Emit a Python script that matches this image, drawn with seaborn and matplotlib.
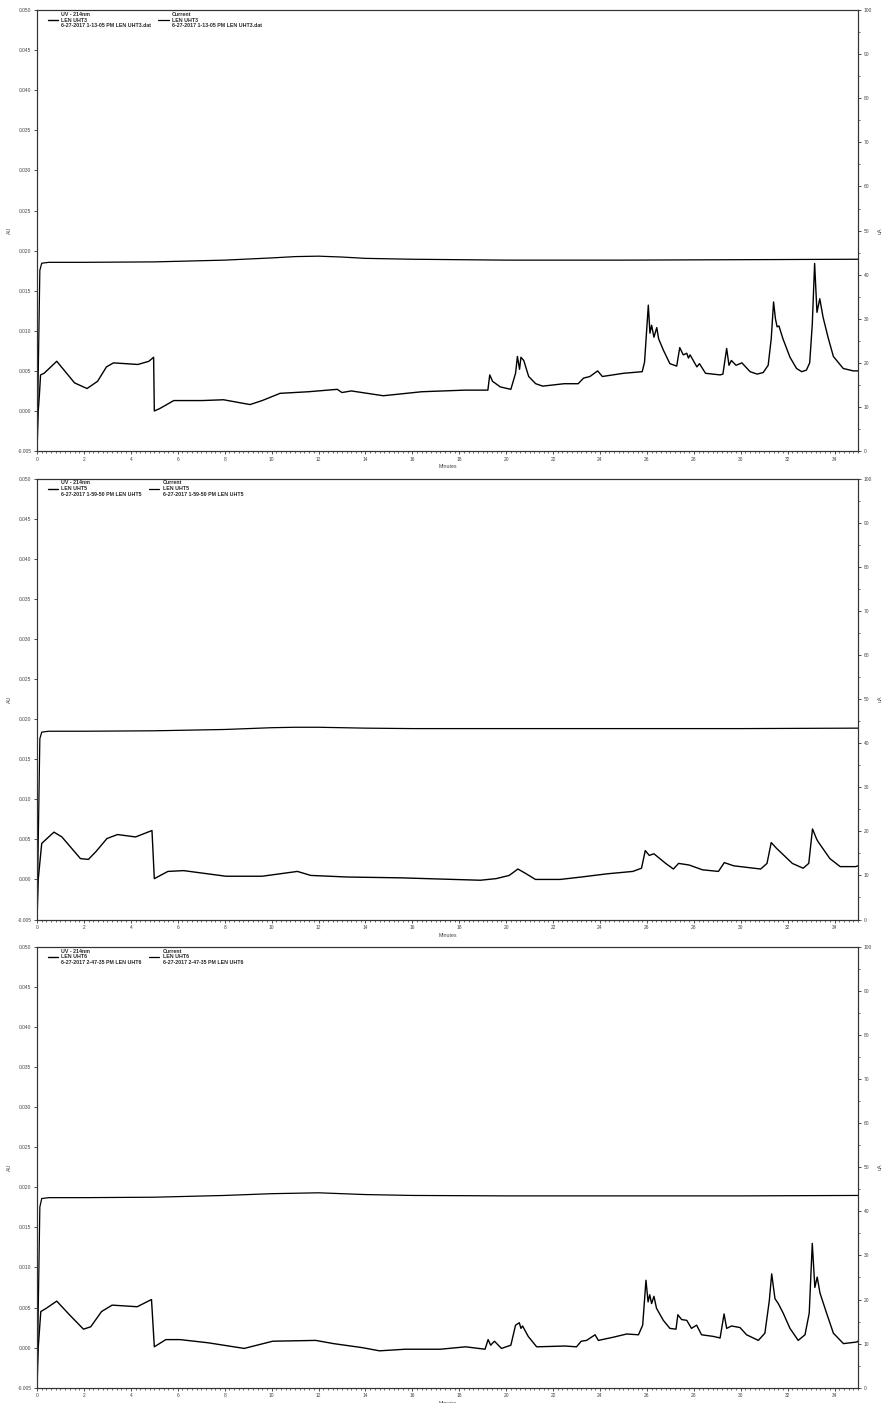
import matplotlib
matplotlib.use("Agg")
import matplotlib.pyplot as plt
from matplotlib.ticker import MultipleLocator, FormatStrFormatter
import seaborn as sns

# ---- panel 1: LEN UHT3 ----
uv1_t = [0, 0.05, 0.1, 0.15, 0.3, 0.84, 1.6, 2.13, 2.58, 2.96, 3.26, 4.3, 4.77, 4.97, 5.0,
         5.23, 5.83, 7.04, 7.95, 9.08, 9.6, 10.36, 11.57, 12.8, 13.0, 13.4, 14.76, 16.4, 18.24,
         19.22, 19.3, 19.42, 19.75, 20.2, 20.4, 20.48, 20.57, 20.63, 20.75, 20.96, 21.26, 21.56,
         22.47, 23.07, 23.3, 23.57, 23.9, 24.1, 25.0, 25.8, 25.9, 26.06, 26.13, 26.2, 26.3, 26.42,
         26.5, 26.7, 26.98, 27.27, 27.4, 27.55, 27.7, 27.77, 27.84, 28.13, 28.24, 28.5, 29.12,
         29.24, 29.4, 29.5, 29.6, 29.8, 30.05, 30.4, 30.7, 30.96, 31.17, 31.3, 31.4, 31.48, 31.55,
         31.63, 31.8, 32.1, 32.38, 32.6, 32.8, 32.94, 33.05, 33.15, 33.25, 33.37, 33.51, 33.73,
         33.95, 34.37, 34.8, 35.0]
uv1_au = [-0.005, 0.0, 0.002, 0.0045, 0.0047, 0.0062, 0.0035, 0.0028, 0.0037, 0.0055, 0.0060,
          0.0058, 0.0062, 0.0067, 0.0000, 0.0003, 0.0013, 0.0013, 0.0014, 0.0008, 0.0013, 0.0022,
          0.0024, 0.0027, 0.0023, 0.0025, 0.0019, 0.0024, 0.0026, 0.0026, 0.0045, 0.0037, 0.0030,
          0.0027, 0.0047, 0.0068, 0.0052, 0.0067, 0.0063, 0.0043, 0.0034, 0.0031, 0.0034, 0.0034,
          0.0041, 0.0043, 0.0050, 0.0043, 0.0047, 0.0049, 0.0061, 0.0132, 0.0097, 0.0107, 0.0092,
          0.0104, 0.0090, 0.0076, 0.0059, 0.0056, 0.0079, 0.0070, 0.0072, 0.0066, 0.0070, 0.0055,
          0.0059, 0.0047, 0.0045, 0.0046, 0.0078, 0.0057, 0.0063, 0.0057, 0.0060, 0.0049, 0.0046,
          0.0048, 0.0057, 0.0090, 0.0136, 0.0115, 0.0105, 0.0106, 0.0090, 0.0067, 0.0053, 0.0049,
          0.0051, 0.0060, 0.0108, 0.0184, 0.0123, 0.0140, 0.0117, 0.0091, 0.0068, 0.0053, 0.0050,
          0.0050]
cur1_t = [0, 0.12, 0.2, 0.5, 2, 5, 8, 10, 11, 12, 13, 14, 16, 20, 25, 30, 35]
cur1_ua = [0, 41.0, 42.6, 42.8, 42.8, 42.9, 43.3, 43.8, 44.1, 44.2, 44.0, 43.7, 43.5, 43.3, 43.3, 43.4, 43.5]

# ---- panel 2: LEN UHT5 ----
uv2_t = [0, 0.05, 0.2, 0.72, 1.06, 1.85, 2.19, 2.52, 2.98, 3.43, 4.2, 4.9, 5.0, 5.58, 6.25,
         8.05, 9.6, 11.1, 11.67, 13.25, 15.5, 17.76, 18.9, 19.57, 20.13, 20.5, 20.8, 21.25, 22.3,
         23.2, 24.3, 25.4, 25.77, 25.93, 26.1, 26.3, 26.8, 27.13, 27.35, 27.8, 28.37, 29.05, 29.3,
         29.7, 30.85, 31.12, 31.3, 31.52, 32.2, 32.66, 32.9, 33.06, 33.24, 33.3, 33.8, 34.24, 34.9, 35.0]
uv2_au = [-0.005, 0.0, 0.0045, 0.0059, 0.0053, 0.0026, 0.0025, 0.0035, 0.0051, 0.0056, 0.0053,
          0.0061, 0.0001, 0.0010, 0.0011, 0.0004, 0.0004, 0.0010, 0.0005, 0.0003, 0.0002, 0.0000,
          -0.0001, 0.0001, 0.0005, 0.0013, 0.0008, 0.0000, 0.0000, 0.0003, 0.0007, 0.0010, 0.0014,
          0.0036, 0.0030, 0.0032, 0.0020, 0.0013, 0.0020, 0.0018, 0.0012, 0.0010, 0.0021, 0.0017,
          0.0013, 0.0020, 0.0046, 0.0039, 0.0020, 0.0014, 0.0020, 0.0063, 0.0050, 0.0047, 0.0026,
          0.0016, 0.0016, 0.0017]
cur2_t = [0, 0.12, 0.2, 0.5, 2, 5, 8, 10, 11, 12, 13, 14, 16, 20, 25, 30, 35]
cur2_ua = [0, 41.0, 42.5, 42.7, 42.7, 42.8, 43.1, 43.5, 43.6, 43.6, 43.5, 43.4, 43.3, 43.3, 43.3, 43.3, 43.4]

# ---- panel 3: LEN UHT6 ----
uv3_t = [0, 0.05, 0.16, 0.39, 0.84, 1.38, 1.98, 2.29, 2.75, 3.2, 4.27, 4.88, 5.0, 5.49, 6.1,
         7.3, 8.83, 10.05, 11.88, 12.64, 13.86, 14.6, 15.7, 17.2, 18.27, 19.1, 19.23, 19.34, 19.5,
         19.8, 20.2, 20.4, 20.56, 20.63, 20.7, 20.94, 21.3, 22.5, 23.0, 23.2, 23.43, 23.79, 23.93,
         24.57, 25.14, 25.64, 25.82, 25.96, 26.05, 26.12, 26.2, 26.3, 26.41, 26.7, 26.98, 27.24,
         27.32, 27.48, 27.7, 27.9, 28.12, 28.33, 28.83, 29.12, 29.29, 29.4, 29.61, 29.97, 30.25,
         30.75, 31.03, 31.22, 31.32, 31.46, 31.6, 31.81, 32.1, 32.45, 32.74, 32.92, 33.05, 33.16,
         33.26, 33.38, 33.66, 33.95, 34.38, 34.95, 35.0]
uv3_au = [-0.005, 0.0, 0.0045, 0.0049, 0.0058, 0.0041, 0.0023, 0.0026, 0.0045, 0.0053, 0.0051,
          0.0060, 0.0001, 0.0010, 0.0010, 0.0006, -0.0001, 0.0008, 0.0009, 0.0005, 0.0000, -0.0004,
          -0.0002, -0.0002, 0.0001, -0.0002, 0.0010, 0.0003, 0.0008, -0.0001, 0.0003, 0.0028,
          0.0031, 0.0024, 0.0027, 0.0014, 0.0001, 0.0002, 0.0001, 0.0008, 0.0009, 0.0016, 0.0009,
          0.0013, 0.0017, 0.0016, 0.0028, 0.0084, 0.0057, 0.0066, 0.0055, 0.0064, 0.0049, 0.0034,
          0.0024, 0.0023, 0.0041, 0.0035, 0.0034, 0.0024, 0.0028, 0.0016, 0.0014, 0.0012, 0.0042,
          0.0024, 0.0027, 0.0025, 0.0016, 0.0009, 0.0018, 0.0059, 0.0092, 0.0061, 0.0055, 0.0043,
          0.0024, 0.0009, 0.0016, 0.0043, 0.0130, 0.0075, 0.0088, 0.0068, 0.0043, 0.0018, 0.0005,
          0.0007, 0.0008]
cur3_t = [0, 0.12, 0.2, 0.5, 2, 5, 8, 10, 11, 12, 13, 14, 16, 20, 25, 30, 35]
cur3_ua = [0, 41.0, 42.9, 43.1, 43.1, 43.2, 43.6, 44.0, 44.1, 44.2, 44.0, 43.8, 43.6, 43.5, 43.5, 43.5, 43.6]

uv_labels = ["UV - 214nm\nLEN UHT3\n6-27-2017 1-13-05 PM LEN UHT3.dat",
             "UV - 214nm\nLEN UHT5\n6-27-2017 1-59-50 PM LEN UHT5",
             "UV - 214nm\nLEN UHT6\n6-27-2017 2-47-35 PM LEN UHT6"]
cur_labels = ["Current\nLEN UHT3\n6-27-2017 1-13-05 PM LEN UHT3.dat",
              "Current\nLEN UHT5\n6-27-2017 1-59-50 PM LEN UHT5",
              "Current\nLEN UHT6\n6-27-2017 2-47-35 PM LEN UHT6"]

panels = [(uv1_t, uv1_au, cur1_t, cur1_ua),
          (uv2_t, uv2_au, cur2_t, cur2_ua),
          (uv3_t, uv3_au, cur3_t, cur3_ua)]

sns.set_style("ticks")
plt.rcParams['font.family'] = ['Liberation Sans', 'DejaVu Sans']

fig = plt.figure(figsize=(8.84, 14.03), dpi=100)
bottoms = [0.6785, 0.3446, 0.0109]
tick_col = '#444444'

for i, (ut, ua, ct, ca) in enumerate(panels):
    ax = fig.add_axes([0.0419, bottoms[i], 0.9287, 0.3143])
    sns.lineplot(x=ut, y=ua, ax=ax, color='black', lw=1.0, estimator=None, sort=False,
                 label=uv_labels[i])
    ax2 = ax.twinx()
    sns.lineplot(x=ct, y=ca, ax=ax2, color='black', lw=0.9, estimator=None, sort=False,
                 label=cur_labels[i])

    ax.set_xlim(0, 35)
    ax.set_ylim(-0.005, 0.050)
    ax2.set_ylim(0, 100)
    ax.xaxis.set_major_locator(MultipleLocator(2))
    ax.xaxis.set_minor_locator(MultipleLocator(0.2))
    ax.yaxis.set_major_locator(MultipleLocator(0.005))
    ax.yaxis.set_major_formatter(FormatStrFormatter('%.3f'))
    ax2.yaxis.set_major_locator(MultipleLocator(10))
    ax2.yaxis.set_minor_locator(MultipleLocator(5))

    for a in (ax, ax2):
        a.tick_params(which='major', length=2.5, width=0.6, labelsize=3.5,
                      labelcolor=tick_col, color='#333333', pad=1.5)
        a.tick_params(which='minor', length=1.3, width=0.5, color='#333333')
        for s in a.spines.values():
            s.set_linewidth(0.8)
            s.set_color('#333333')

    ax.set_xlabel("Minutes", fontsize=3.8, color=tick_col, labelpad=2)
    ax.set_ylabel("AU", fontsize=3.8, color=tick_col)
    ax.yaxis.set_label_coords(-0.030, 0.5)
    ax2.set_ylabel("uA", fontsize=3.8, color=tick_col)
    ax2.yaxis.set_label_coords(1.024, 0.5)

    h1, l1 = ax.get_legend_handles_labels()
    h2, l2 = ax2.get_legend_handles_labels()
    ax.get_legend().remove()
    ax2.legend(h1 + h2, l1 + l2, ncol=2, loc='upper left', bbox_to_anchor=(0.013, 0.996),
               frameon=False, prop={'size': 3.8, 'weight': 'bold'}, handlelength=2.0,
               handletextpad=0.6, columnspacing=1.3, borderpad=0, borderaxespad=0)

fig.savefig("out.png", dpi=100)
